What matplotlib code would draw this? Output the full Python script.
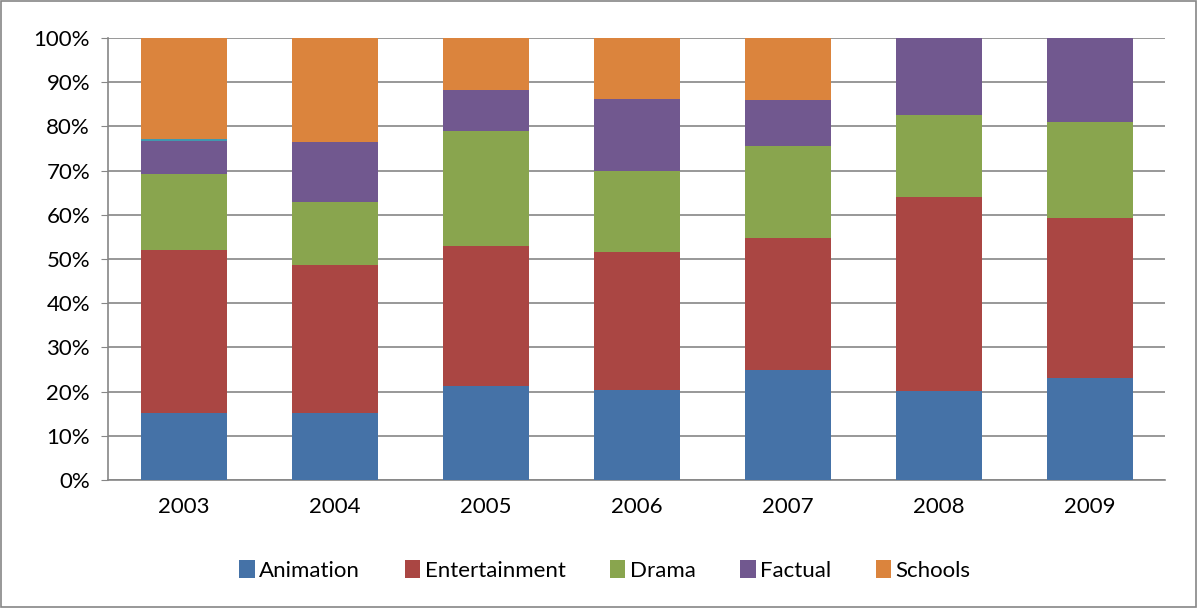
import matplotlib.pyplot as plt
from matplotlib.patches import Rectangle
import numpy as np

years = ['2003', '2004', '2005', '2006', '2007', '2008', '2009']
animation = [15.2, 15.2, 21.3, 20.4, 24.9, 20.1, 23.1]
entertainment = [36.8, 33.4, 31.6, 31.2, 29.9, 43.9, 36.2]
drama = [17.2, 14.3, 26.1, 18.3, 20.8, 18.6, 21.7]
factual = [7.5, 13.6, 9.2, 16.3, 10.4, 17.4, 19.0]
other = [0.5, 0, 0, 0, 0, 0, 0]
schools = [22.8, 23.5, 11.8, 13.8, 14.0, 0, 0]

series = [
    ('Animation', animation, '#4572A7'),
    ('Entertainment', entertainment, '#AA4643'),
    ('Drama', drama, '#89A54E'),
    ('Factual', factual, '#71588F'),
    (None, other, '#4198AF'),
    ('Schools', schools, '#DB843D'),
]

plt.rcParams['font.family'] = ['Lato', 'DejaVu Sans']

fig = plt.figure(figsize=(11.98, 6.08), dpi=100)
ax = fig.add_axes([0.0902, 0.2105, 0.8823, 0.727])

x = np.arange(len(years))
bottom = np.zeros(len(years))
handles = []
for name, vals, color in series:
    vals = np.array(vals)
    b = ax.bar(x, vals, 0.57, bottom=bottom, color=color, zorder=3,
               label=name if name else '_nolegend_')
    if name:
        handles.append(b)
    bottom += vals

ax.set_xlim(-0.5, len(years) - 0.5)
ax.set_ylim(0, 100)
ax.set_yticks(range(0, 101, 10))
ax.set_yticklabels([f'{v}%' for v in range(0, 101, 10)])
ax.set_xticks(x)
ax.set_xticklabels(years)
ax.yaxis.grid(True, color='#868686', linewidth=1.2, zorder=0)
ax.tick_params(axis='y', length=5, color='#868686', labelsize=16, pad=8)
ax.tick_params(axis='x', length=0, labelsize=16, pad=12)
for s in ['top', 'right']:
    ax.spines[s].set_visible(False)
for s in ['left', 'bottom']:
    ax.spines[s].set_color('#868686')
    ax.spines[s].set_linewidth(1.2)

fig.legend(handles=handles, loc='center', bbox_to_anchor=(0.505, 0.062), ncol=5,
           frameon=False, fontsize=16, handlelength=0.7, handleheight=0.9,
           handletextpad=0.2, columnspacing=2.0)

fig.patches.append(Rectangle((0.001, 0.002), 0.997, 0.996, transform=fig.transFigure,
                             fill=False, edgecolor='#868686', linewidth=1.2))

fig.savefig('out.png', dpi=100)
